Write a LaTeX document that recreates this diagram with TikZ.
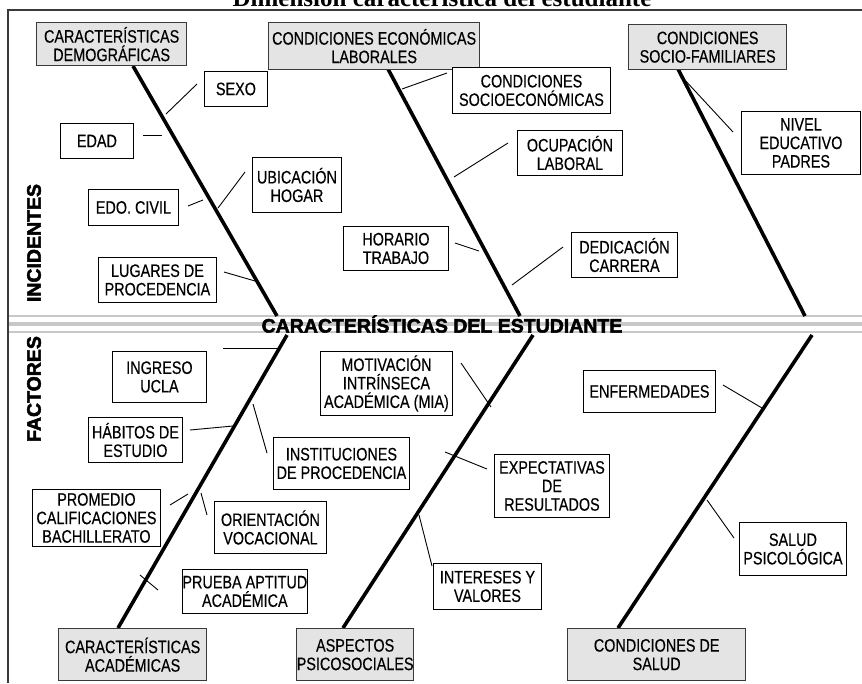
\documentclass[tikz,border=0pt]{standalone}
\usepackage{fontspec}
\setmainfont{Liberation Sans}[FakeStretch=0.8, FakeBold=0.35]
\newfontfamily\heavyfont{Liberation Sans Bold}[FakeBold=2.5]
\newfontfamily\titlefont{Liberation Serif Bold}
\definecolor{catfill}{HTML}{E4E4E4}
\definecolor{bandgray}{HTML}{C8C8C8}
\definecolor{framegray}{HTML}{3A3A3A}
\newcommand{\itemfont}{\fontsize{18}{18.5}\selectfont}
\tikzset{
  ibx/.style={draw=black, fill=white, line width=0.9pt, anchor=north west, inner sep=0pt, align=center, font=\itemfont},
  cbx/.style={draw=framegray, fill=catfill, line width=1.3pt, anchor=north west, inner sep=0pt, align=center, font=\itemfont},
  bone/.style={line width=3.6pt, black},
  twig/.style={line width=0.9pt, black},
  bandline/.style={bandgray, line width=#1},
}
\newcommand{\ibox}[6]{\node[ibx, minimum width=#4pt, minimum height=#5pt] (#1) at (#2,#3) {#6};}
\newcommand{\cbox}[6]{\node[cbx, minimum width=#4pt, minimum height=#5pt] (#1) at (#2,#3) {#6};}
\newcommand{\twigline}[5]{\coordinate (#1-a) at (#2,#3); \coordinate (#1-b) at (#4,#5); \draw[twig] (#1-a) -- (#1-b);}
\begin{document}
\begin{tikzpicture}[x=1pt,y=-1pt]
\useasboundingbox (0,0) rectangle (862,683);
% title
\node[anchor=base, font=\titlefont\fontsize{25}{25}\selectfont, inner sep=0pt] (title) at (442,6) {Dimensión característica del estudiante};
% frame
\coordinate (fbl) at (8,683); \coordinate (ftl) at (8,10); \coordinate (ftr) at (862,10);
\draw[framegray, line width=1.4pt] (fbl) -- (ftl) -- (ftr);
% band
\coordinate (bandA1) at (9,316); \coordinate (bandA2) at (862,316);
\coordinate (bandB1) at (9,324); \coordinate (bandB2) at (862,324);
\coordinate (bandC1) at (9,332); \coordinate (bandC2) at (862,332);
\draw[bandline=2pt] (bandA1) -- (bandA2);
\draw[bandline=4.5pt] (bandB1) -- (bandB2);
\draw[bandline=2pt] (bandC1) -- (bandC2);
\node[font=\heavyfont\fontsize{19.5}{19.5}\selectfont, inner sep=0pt] (spine) at (442,324) {CARACTERÍSTICAS DEL ESTUDIANTE};
% side labels
\node[rotate=90, font=\heavyfont\fontsize{19.5}{19.5}\selectfont, inner sep=0pt] (incid) at (34,243) {INCIDENTES};
\node[rotate=90, font=\heavyfont\fontsize{19.5}{19.5}\selectfont, inner sep=0pt] (fact) at (34,389) {FACTORES};
% bones
\coordinate (b1s) at (133,66); \coordinate (b1e) at (277,316);
\coordinate (b2s) at (388,69); \coordinate (b2e) at (520,316);
\coordinate (b3s) at (678,69); \coordinate (b3e) at (805,316);
\coordinate (c1s) at (287,335); \coordinate (c1e) at (118,628);
\coordinate (c2s) at (533,335); \coordinate (c2e) at (343,628);
\coordinate (c3s) at (812,335); \coordinate (c3e) at (618,628);
\draw[bone] (b1s) -- (b1e);
\draw[bone] (b2s) -- (b2e);
\draw[bone] (b3s) -- (b3e);
\draw[bone] (c1s) -- (c1e);
\draw[bone] (c2s) -- (c2e);
\draw[bone] (c3s) -- (c3e);
% category boxes
\cbox{demog}{36}{22}{150}{43}{CARACTERÍSTICAS\\DEMOGRÁFICAS}
\cbox{econ}{268}{22}{211}{47}{CONDICIONES ECONÓMICAS\\LABORALES}
\cbox{sofam}{628}{24}{158}{45}{CONDICIONES\\SOCIO-FAMILIARES}
\cbox{acad}{58}{628}{148}{52}{CARACTERÍSTICAS\\ACADÉMICAS}
\cbox{psico}{296}{628}{117}{52}{ASPECTOS\\PSICOSOCIALES}
\cbox{csalud}{567}{628}{178}{52}{CONDICIONES DE\\SALUD}
% item boxes top
\ibox{sexo}{204}{71}{63}{35}{SEXO}
\ibox{edad}{60}{123}{73}{35}{EDAD}
\ibox{civil}{88}{189}{90}{36}{EDO. CIVIL}
\ibox{ubic}{252}{157}{89}{55}{UBICACIÓN\\HOGAR}
\ibox{lugar}{98}{257}{118}{45}{LUGARES DE\\PROCEDENCIA}
\ibox{horario}{343}{226}{105}{44}{HORARIO\\TRABAJO}
\ibox{csocio}{452}{67}{158}{46}{CONDICIONES\\SOCIOECONÓMICAS}
\ibox{ocup}{517}{130}{105}{45}{OCUPACIÓN\\LABORAL}
\ibox{dedic}{571}{232}{106}{45}{DEDICACIÓN\\CARRERA}
\ibox{nivel}{741}{111}{119}{63}{NIVEL\\EDUCATIVO\\PADRES}
% item boxes bottom
\ibox{ingreso}{112}{351}{94}{51}{INGRESO\\UCLA}
\ibox{habitos}{88}{417}{94}{45}{HÁBITOS DE\\ESTUDIO}
\ibox{instit}{273}{437}{136}{52}{INSTITUCIONES\\DE PROCEDENCIA}
\ibox{promedio}{32}{489}{128}{57}{PROMEDIO\\CALIFICACIONES\\BACHILLERATO}
\ibox{orient}{214}{501}{112}{52}{ORIENTACIÓN\\VOCACIONAL}
\ibox{prueba}{182}{569}{123}{44}{PRUEBA APTITUD\\ACADÉMICA}
\ibox{motiv}{320}{351}{132}{64}{MOTIVACIÓN\\INTRÍNSECA\\ACADÉMICA (MIA)}
\ibox{expect}{494}{454}{115}{63}{EXPECTATIVAS\\DE\\RESULTADOS}
\ibox{inter}{433}{563}{108}{46}{INTERESES Y\\VALORES}
\ibox{enferm}{583}{370}{132}{42}{ENFERMEDADES}
\ibox{salud}{739}{522}{107}{53}{SALUD\\PSICOLÓGICA}
% connectors top
\twigline{tsexo}{197}{84}{166}{114}
\twigline{tedad}{143}{135}{162}{135}
\twigline{tcivil}{188}{206}{203}{200}
\twigline{tubic}{245}{172}{218}{208}
\twigline{tlugar}{224}{272}{255}{281}
\twigline{thorario}{455}{243}{479}{251}
\twigline{tcsocio}{402}{89}{447}{73}
\twigline{tocup}{508}{143}{454}{177}
\twigline{tdedic}{563}{247}{512}{285}
\twigline{tnivel}{683}{78}{733}{132}
% connectors bottom
\twigline{tingreso}{223}{348}{278}{348}
\twigline{thabitos}{190}{430}{233}{426}
\twigline{tinstit}{253}{404}{267}{453}
\twigline{tpromedio}{170}{505}{188}{494}
\twigline{torient}{201}{493}{207}{515}
\twigline{tprueba}{140}{575}{158}{590}
\twigline{tmotiv}{461}{363}{491}{407}
\twigline{texpect}{487}{469}{445}{452}
\twigline{tinter}{419}{515}{432}{566}
\twigline{tenferm}{723}{385}{762}{408}
\twigline{tsalud}{707}{500}{734}{538}
\end{tikzpicture}
\end{document}
